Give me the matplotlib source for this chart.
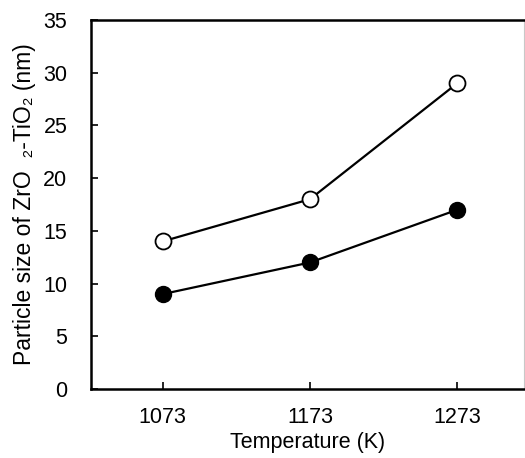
import matplotlib
matplotlib.use('Agg')
import matplotlib.pyplot as plt

plt.rcParams['font.family'] = ['Liberation Sans', 'DejaVu Sans']

temperatures = ['1073', '1173', '1273']
open_sizes = [14, 18, 29]
filled_sizes = [9, 12, 17]

fig = plt.figure(figsize=(5.25, 4.58), dpi=100)
ax = fig.add_axes([91 / 525, 1 - 389 / 458, (524 - 91) / 525, (389 - 20) / 458])

x = list(range(len(temperatures)))
ax.plot(x, open_sizes, '-o', color='black', lw=1.6, ms=11.5,
        mfc='white', mec='black', mew=1.3, zorder=3)
ax.plot(x, filled_sizes, '-o', color='black', lw=1.6, ms=11.5,
        mfc='black', mec='black', zorder=3)

ax.set_xlim(-0.486, 2.453)
ax.set_ylim(0, 35)
ax.set_xticks(x)
ax.set_xticklabels(temperatures)
ax.set_yticks(range(0, 36, 5))
ax.tick_params(direction='in', length=5, width=1.2, labelsize=15.5)
ax.tick_params(axis='x', pad=13)
ax.tick_params(axis='y', pad=17)

for s in ['left', 'bottom', 'top']:
    ax.spines[s].set_linewidth(1.8)
ax.spines['right'].set_linewidth(0.8)
ax.spines['right'].set_color('#c8c8c8')

ax.set_xlabel('Temperature (K)', fontsize=15.5, labelpad=3)
ax.set_ylabel('Particle size of ZrO  \u2082-TiO\u2082 (nm)', fontsize=16.5, labelpad=5)

fig.savefig('out.png', dpi=100)
